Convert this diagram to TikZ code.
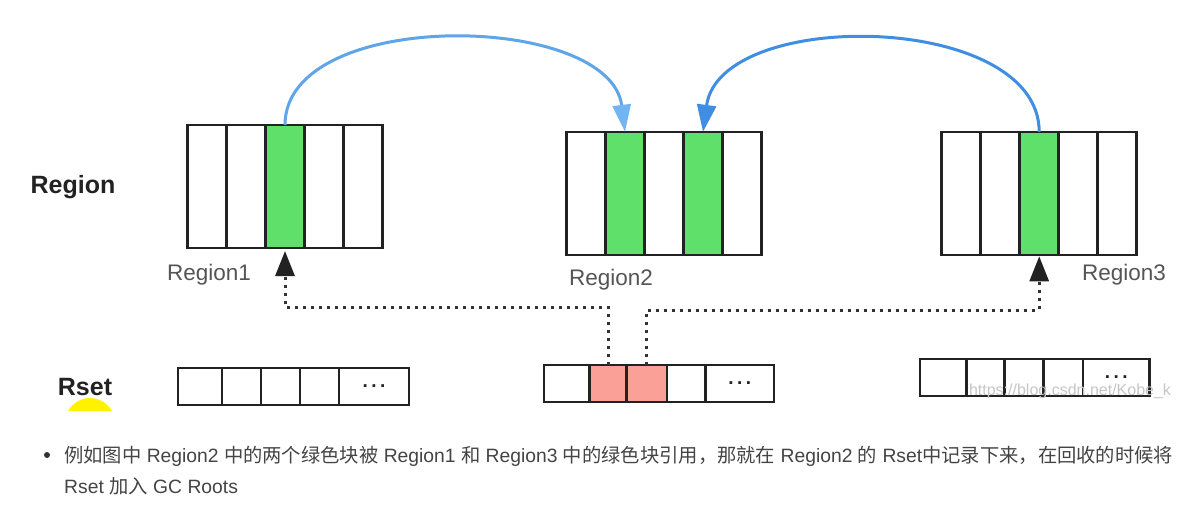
\documentclass[tikz,border=0pt]{standalone}
\usepackage{fontspec}
\setmainfont{Liberation Sans}
\newfontfamily\cjk{Noto Sans CJK SC}
\usetikzlibrary{arrows.meta}
\definecolor{cellgreen}{RGB}{94,224,106}
\definecolor{cellpink}{RGB}{250,160,150}
\definecolor{boxc}{RGB}{34,34,34}
\definecolor{blueA}{RGB}{95,165,232}
\definecolor{blueAhead}{RGB}{115,180,242}
\definecolor{blueB}{RGB}{62,142,228}
\definecolor{labelgray}{RGB}{85,85,85}
\definecolor{bodytext}{RGB}{68,68,68}
\definecolor{dotc}{RGB}{51,51,51}
\begin{document}
\begin{tikzpicture}[x=1pt,y=-1pt,
  cell/.style={draw=boxc, line width=2.6pt, inner sep=0pt, outer sep=0pt, minimum width=39pt, minimum height=123pt},
  rcell/.style={draw=boxc, line width=2.6pt, inner sep=0pt, outer sep=0pt, minimum height=37pt},
  green/.style={fill=cellgreen},
  pink/.style={fill=cellpink},
  rowlabel/.style={font=\bfseries\fontsize{25}{25}\selectfont, text=boxc, inner sep=0pt},
  reglabel/.style={font=\fontsize{22.5}{22.5}\selectfont, text=labelgray, inner sep=0pt},
  dotsnode/.style={font=\bfseries\fontsize{19}{19}\selectfont, text=boxc, inner sep=0pt},
  refarc/.style={line width=3pt},
  rsetlink/.style={draw=dotc, line width=3pt, dash pattern=on 3pt off 5pt, shorten >=3pt, -{Triangle[length=25pt,width=19pt,fill=boxc,color=boxc]}},
  body/.style={font=\fontsize{19.3}{24}\selectfont, text=bodytext, inner sep=0pt, anchor=base west}
]
\useasboundingbox (0,0) rectangle (1200,530);
\fill[white] (0,0) rectangle (1200,530);

% yellow spot (clipped)
\begin{scope}
  \clip (0,0) rectangle (1200,410);
  \fill[yellow] (90,423) circle (25);
\end{scope}

% row labels
\node[rowlabel] (lblregion) at (73,187) {Region};
\node[rowlabel] (lblrset) at (85,387) {Rset};

% Region1
\node[cell] (r1c1) at (207,186.5) {};
\node[cell] (r1c2) at (246,186.5) {};
\node[cell,green] (r1c3) at (285,186.5) {};
\node[cell] (r1c4) at (324,186.5) {};
\node[cell] (r1c5) at (363,186.5) {};

% Region2
\node[cell] (r2c1) at (586,193.3) {};
\node[cell,green] (r2c2) at (625,193.3) {};
\node[cell] (r2c3) at (664,193.3) {};
\node[cell,green] (r2c4) at (703,193.3) {};
\node[cell] (r2c5) at (742,193.3) {};

% Region3
\node[cell] (r3c1) at (961.2,193.3) {};
\node[cell] (r3c2) at (1000.2,193.3) {};
\node[cell,green] (r3c3) at (1039.2,193.3) {};
\node[cell] (r3c4) at (1078.2,193.3) {};
\node[cell] (r3c5) at (1117.2,193.3) {};

% region labels
\node[reglabel] (lbl1) at (209,275) {Region1};
\node[reglabel] (lbl2) at (611,280) {Region2};
\node[reglabel] (lbl3) at (1124,275) {Region3};

% Rset1
\node[rcell,minimum width=44pt] (s1c1) at (200,386.5) {};
\node[rcell,minimum width=39pt] (s1c2) at (241.5,386.5) {};
\node[rcell,minimum width=39pt] (s1c3) at (280.5,386.5) {};
\node[rcell,minimum width=39pt] (s1c4) at (319.5,386.5) {};
\node[rcell,minimum width=70pt] (s1c5) at (374,386.5) {};
\node[dotsnode] (s1dots) at (s1c5) {.\kern3.5pt.\kern3.5pt.};

% Rset2
\node[rcell,minimum width=45.5pt] (s2c1) at (566.75,383.5) {};
\node[rcell,pink,minimum width=37pt] (s2c2) at (608,383.5) {};
\node[rcell,pink,minimum width=40.5pt] (s2c3) at (646.75,383.5) {};
\node[rcell,minimum width=38.5pt] (s2c4) at (686.25,383.5) {};
\node[rcell,minimum width=68.5pt] (s2c5) at (739.75,383.5) {};
\node[dotsnode] (s2dots) at (s2c5) {.\kern3.5pt.\kern3.5pt.};

% Rset3
\node[rcell,minimum width=46.7pt] (s3c1) at (943.35,377.5) {};
\node[rcell,minimum width=37.7pt] (s3c2) at (985.55,377.5) {};
\node[rcell,minimum width=39pt] (s3c3) at (1023.9,377.5) {};
\node[rcell,minimum width=39.5pt] (s3c4) at (1063.15,377.5) {};
\node[rcell,minimum width=66.8pt] (s3c5) at (1116.3,377.5) {};
\node[dotsnode] (s3dots) at (s3c5) {.\kern3.5pt.\kern3.5pt.};

% watermark
\node[font=\fontsize{16}{16}\selectfont, text=gray!45, inner sep=0pt] (wm) at (1070,391) {https://blog.csdn.net/Kobe\_k};

% blue reference arcs
\draw[refarc, draw=blueA, -{Triangle[length=27pt,width=18pt,fill=blueAhead,color=blueAhead]}]
  (r1c3.north) .. controls +(0,-118) and +(-15,-120) .. (r2c2.north);
\draw[refarc, draw=blueB, -{Triangle[length=27pt,width=19pt,fill=blueB,color=blueB]}]
  (r3c3.north) .. controls +(0,-120) and +(17,-125) .. (r2c4.north);

% dotted Rset links
\draw[rsetlink] (s2c2.north) -- ++(0,-58) -| (r1c3.south);
\draw[rsetlink, shorten >=1.5pt] (s2c3.north) -- ++(0,-55) -| (r3c3.south);

% body text
\fill[dotc] (47,455) circle (3) coordinate (bullet);
\node[body] (line1) at (64,462) {{\cjk 例如图中} Region2 {\cjk 中的两个绿色块被} Region1 {\cjk 和} Region3 {\cjk 中的绿色块引用，那就在} Region2 {\cjk 的} Rset{\cjk 中记录下来，在回收的时候将}};
\node[body] (line2) at (64,493) {Rset {\cjk 加入} GC Roots};
\end{tikzpicture}
\end{document}
